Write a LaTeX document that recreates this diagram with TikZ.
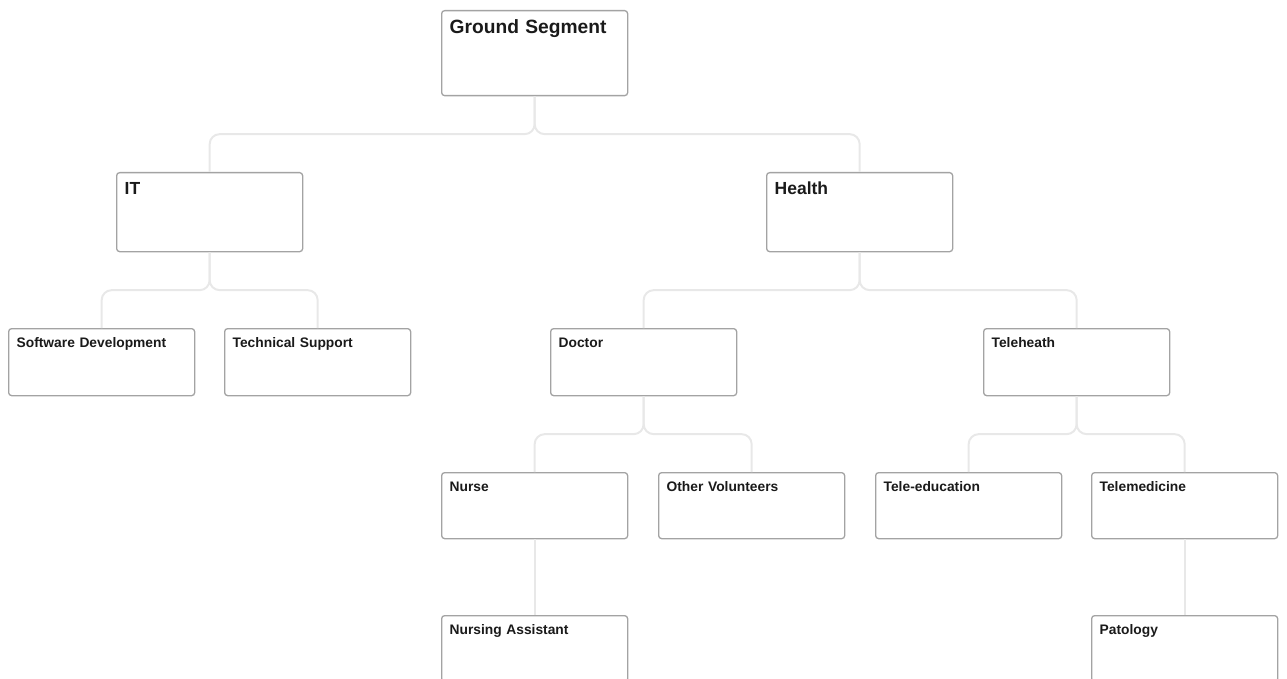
\documentclass[tikz,border=0pt]{standalone}
\usepackage{fontspec}
\setmainfont{Liberation Sans}
\usetikzlibrary{calc}

\definecolor{boxline}{HTML}{A3A3A3}
\definecolor{linkline}{HTML}{E8E8E8}
\definecolor{labeltext}{HTML}{1A1A1A}

\tikzset{
  unit/.style={draw=boxline, line width=1.3pt, rounded corners=3pt, fill=white,
    anchor=north west, align=left, text=labeltext, inner xsep=8pt, inner ysep=6pt,
    text width=170pt, font=\bfseries},
  toplevel/.style={unit, font=\fontsize{19.2}{21}\selectfont\bfseries, text height=17pt, text depth=56pt},
  branch/.style={unit, font=\fontsize{17.5}{19}\selectfont\bfseries, text height=16pt, text depth=51pt},
  leaf/.style={unit, font=\fontsize{13.8}{15}\selectfont\bfseries, text height=13pt, text depth=42pt},
  subleaf/.style={leaf, text depth=41pt},
  link/.style={draw=linkline, line width=2pt, rounded corners=10pt}
}

\begin{document}
\begin{tikzpicture}[x=1pt,y=1pt,yscale=-1,xscale=1]
\clip (0,0) rectangle (1287,679);

% Top box
\node[toplevel] (gs) at (441,10) {Ground Segment};

% Second row
\node[branch] (it) at (116,172) {IT};
\node[branch] (health) at (766,172) {Health};

% Third row
\node[leaf] (sw) at (8,328) {Software Development};
\node[leaf] (ts) at (224,328) {Technical Support};
\node[leaf] (doctor) at (550,328) {Doctor};
\node[leaf] (telehealth) at (983,328) {Teleheath};

% Fourth row
\node[subleaf] (nurse) at (441,472) {Nurse};
\node[subleaf] (volunteers) at (658,472) {Other Volunteers};
\node[subleaf] (edu) at (875,472) {Tele-education};
\node[subleaf] (medicine) at (1091,472) {Telemedicine};

% Fifth row
\node[subleaf] (assistant) at (441,615) {Nursing Assistant};
\node[subleaf] (patology) at (1091,615) {Patology};

% Connectors
\foreach \p/\c in {gs/it, gs/health, it/sw, it/ts, health/doctor, health/telehealth,
    doctor/nurse, doctor/volunteers, telehealth/edu, telehealth/medicine}
  \draw[link] (\p.south) -- ($(\p.south)!.5!(\p.south |- \c.north)$) -| (\c.north);
\draw[link] (nurse.south) -- (assistant.north);
\draw[link] (medicine.south) -- (patology.north);

\end{tikzpicture}
\end{document}
